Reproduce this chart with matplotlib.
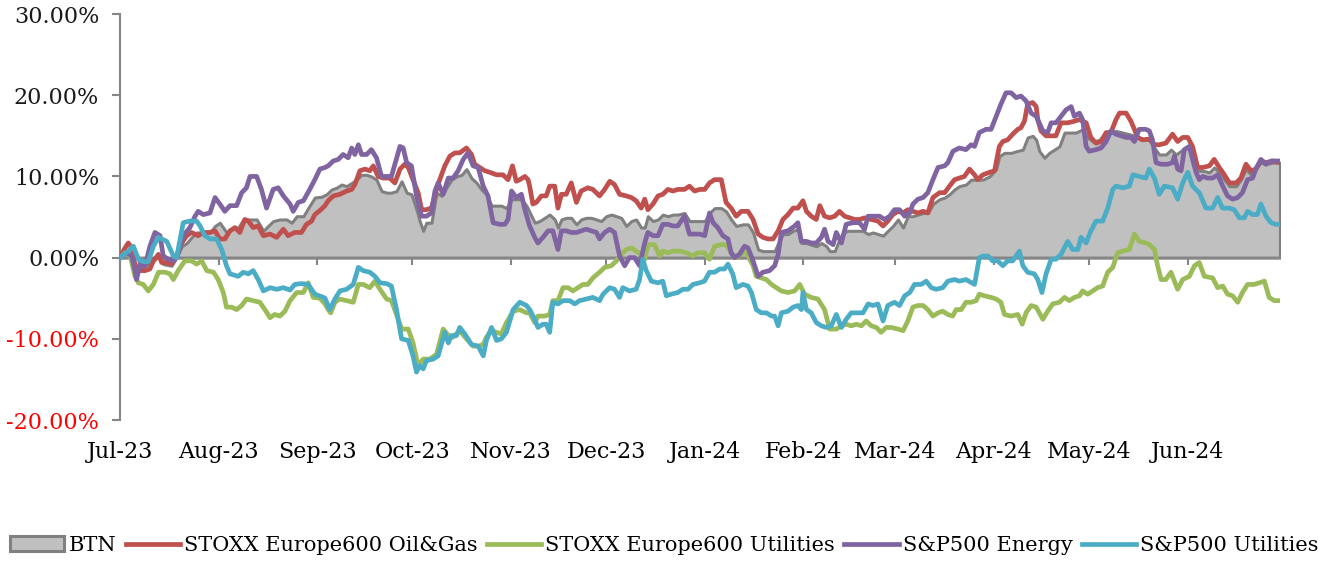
import numpy as np
import matplotlib
matplotlib.use("Agg")
import matplotlib.pyplot as plt
import matplotlib.dates as mdates
from datetime import datetime

# ---------------- data (day offsets from 2023-07-01, values in %) ----------------
start_date = datetime(2023, 7, 1)

btn_days = [0, 1.6, 3.1, 4.7, 7.3, 10.5, 12.1, 13.6, 16.2, 17.8, 19.4, 21, 22.5, 24.1, 26.2, 28.3, 29.9, 31.4, 33.5, 35.1,
            37.2, 38.8, 40.9, 43, 45.1, 46.6, 48.2, 50.3, 52.4, 54, 55.6, 57.7, 59.2, 61.3, 63.4, 65, 66.6, 68.1, 69.7, 71.3,
            72.9, 74.4, 76, 77.6, 79.1, 80.7, 82.3, 83.9, 85.4, 87, 88.6, 90.2, 91.7, 93.3, 94.3, 95.4, 96.4, 98, 99.6, 101.2,
            102.7, 104.3, 105.9, 107.5, 109, 110.6, 112.2, 113.7, 115.3, 116.9, 118.5, 120, 121.6, 123.2, 124.7, 126.3, 127.9, 129.5, 130.5, 132,
            133.6, 135.2, 136.8, 137.8, 138.9, 140.4, 142, 143.6, 145.1, 146.7, 148.3, 149.9, 151.4, 153, 154.6, 156.2, 157.7, 159.3, 160.9, 162.4,
            164, 165.1, 166.1, 167.7, 169.3, 170.8, 172.4, 174, 175.5, 177.6, 179.2, 180.8, 182.4, 184, 185.5, 187.1, 189.2, 190.7, 192.3, 193.9,
            196, 197.6, 199.2, 200.8, 202.3, 204.4, 206, 207.1, 208.6, 210.2, 211.8, 213.3, 214.4, 216, 217.5, 219.1, 220.7, 222.3, 223.3, 224.9,
            225.9, 227.5, 229.1, 230.6, 232.2, 233.8, 235.4, 236.9, 238.5, 240.1, 241.6, 243.2, 244.8, 246.4, 247.9, 249.5, 251.1, 252.7, 254.2, 255.8,
            257.9, 259.5, 261, 262.6, 264.1, 266.2, 267.8, 269.4, 271.5, 273.6, 275.7, 276.7, 278.3, 280.4, 282, 284.1, 285.6, 287.2, 288.3, 289.3,
            290.9, 292.4, 294, 295.6, 297.2, 298.7, 300.8, 302.9, 304.5, 306.1, 308.2, 309.7, 311.8, 313.4, 315.5, 317.6, 319.2, 320.7, 322.8, 323.9,
            325.5, 327, 329.1, 330.7, 332.3, 334.4, 336, 337.5, 339.1, 340.7, 342.8, 344.3, 345.9, 347.5, 349.1, 351.2, 352.7, 354.3, 355.9, 357.4,
            359, 360.6, 362.7, 365]
btn_vals = [0, 1.0, 0.6, -1.0, -1.2, -0.4, 0.2, -0.8, -1.0, 0, 1.4, 1.8, 2.5, 3.1, 3.1, 3.1, 3.9, 4.3, 3.1, 3.5,
            3.7, 4.7, 4.7, 4.7, 3.3, 3.9, 4.5, 4.7, 4.7, 4.3, 5.1, 5.1, 6.1, 7.4, 7.5, 7.8, 8.4, 8.6, 9.0, 8.8,
            9.2, 9.6, 10.2, 10.2, 10.0, 9.6, 8.2, 8.0, 8.0, 8.2, 9.4, 8.0, 7.8, 5.9, 4.5, 3.3, 4.3, 4.3, 8.0, 7.6,
            8.6, 9.6, 10.0, 10.2, 10.9, 9.8, 9.2, 8.4, 7.8, 6.4, 6.4, 6.4, 6.1, 7.2, 7.2, 7.2, 6.4, 5.1, 4.3, 4.5,
            4.9, 5.3, 4.7, 3.7, 4.7, 4.9, 4.9, 4.1, 4.7, 4.9, 4.9, 4.7, 4.5, 5.1, 5.3, 5.1, 4.9, 3.9, 4.5, 4.7,
            3.7, 3.7, 5.1, 4.5, 4.7, 5.3, 5.1, 5.3, 5.3, 5.5, 4.5, 4.5, 4.5, 4.5, 5.5, 6.1, 6.1, 5.7, 4.7, 3.9,
            4.1, 4.1, 3.1, 1.0, 0.8, 0.8, 0.8, 1.8, 2.9, 2.9, 3.3, 3.5, 1.8, 1.8, 1.6, 1.4, 1.8, 1.4, 0.8, 0.8,
            1.8, 3.1, 3.3, 3.3, 3.3, 3.3, 2.9, 3.1, 2.9, 2.7, 3.3, 3.9, 4.7, 3.7, 5.1, 5.1, 5.3, 5.5, 5.5, 6.6,
            7.2, 7.4, 7.8, 8.4, 8.8, 9.0, 9.6, 9.6, 9.6, 10.0, 10.9, 12.5, 12.9, 12.9, 13.1, 13.3, 14.8, 15.0, 14.5, 13.1,
            12.3, 12.9, 13.3, 13.7, 15.4, 15.4, 15.4, 15.8, 14.8, 14.3, 14.5, 15.2, 15.4, 15.6, 15.4, 15.2, 15.0, 14.8, 14.5, 14.5,
            13.5, 12.7, 12.7, 13.3, 12.7, 13.3, 13.7, 12.5, 10.7, 10.7, 10.5, 11.1, 10.5, 9.6, 8.8, 8.8, 9.6, 10.9, 10.2, 11.1,
            11.7, 11.5, 11.7, 11.7]

oilgas_days = [0, 1.6, 2.6, 3.7, 4.7, 6.3, 7.9, 9.4, 10.5, 12.1, 13.1, 14.7, 16.2, 17.8, 19.4, 21, 22.5, 24.6, 26.2, 28.3,
               29.9, 31.4, 33, 34.6, 36.2, 37.7, 39.3, 40.4, 41.9, 43.5, 45.1, 47.2, 49.3, 51.4, 52.9, 55, 57.1, 58.7, 60.3, 61.3,
               62.9, 64.5, 65.5, 67.1, 69.2, 71.3, 72.9, 73.9, 75.5, 77.1, 78.6, 79.7, 81.2, 82.8, 84.9, 86.5, 88.1, 89.6, 90.7, 92.2,
               93.8, 94.9, 96.4, 98, 99.6, 100.6, 102.2, 103.8, 105.4, 106.9, 109, 110.6, 111.6, 113.2, 114.8, 116.4, 118.5, 120.5, 122.1, 123.5,
               124.7, 125.8, 127.4, 128.4, 128.9, 129.9, 131, 132.6, 134.1, 135.2, 136.8, 137.8, 138.9, 140.4, 142, 143.6, 145.1, 147.2, 148.8, 150.9,
               152.5, 154.1, 155.6, 157.2, 159.3, 160.9, 162.4, 164, 165.1, 166.1, 167.7, 169.3, 170.8, 172.4, 174, 175.5, 177.6, 179.2, 180.8, 182.4,
               184, 185.5, 187.1, 189.2, 190.7, 192.3, 193.9, 195.5, 197.6, 199.2, 200.8, 202.3, 203.9, 205.5, 207.1, 208.6, 210.2, 211.8, 213.3, 214.9,
               216, 217.5, 219.1, 220.2, 221.7, 223.3, 224.9, 226.4, 228, 229.6, 231.2, 232.7, 234.3, 236.4, 238.5, 240.1, 241.6, 243.2, 244.8, 246.4,
               247.9, 249.5, 251.1, 252.7, 254.2, 255.8, 257.9, 259.5, 261, 262.6, 264.1, 265.7, 267.3, 268.9, 269.9, 271.5, 273.6, 275.2, 276.7, 277.8,
               279.3, 280.9, 282.5, 283.5, 284.6, 285.6, 287.2, 288.3, 288.8, 289.8, 291.4, 293, 294.5, 296.1, 298.2, 300.3, 301.9, 304, 305.5, 307.1,
               308.7, 310.3, 311.8, 313.4, 314.5, 316.6, 318.1, 319.2, 320.2, 321.8, 323.9, 325.5, 327, 329.1, 331.2, 332.8, 334.4, 336, 337.5, 339.1,
               340.7, 342.8, 344.3, 345.9, 347.5, 349.1, 351.2, 352.7, 354.3, 355.9, 357.4, 359, 360.6, 362.7, 365]
oilgas_vals = [0, 1.2, 1.8, 1.2, -1.0, -1.6, -1.6, -1.4, -0.4, 0.4, -0.6, -0.6, -0.8, 0.2, 1.8, 2.7, 3.1, 2.7, 3.1, 3.1,
               3.3, 2.3, 2.3, 3.3, 3.7, 3.1, 4.7, 4.5, 3.7, 3.9, 2.7, 2.9, 2.5, 3.5, 2.7, 3.1, 3.1, 4.1, 4.5, 5.3,
               5.8, 6.4, 7.0, 7.6, 7.8, 8.2, 8.4, 9.0, 10.7, 10.9, 10.7, 11.3, 10.0, 9.8, 9.8, 9.2, 10.9, 11.5, 11.1, 9.6,
               8.0, 5.9, 5.9, 6.1, 8.4, 9.6, 11.3, 12.5, 12.9, 12.9, 13.5, 12.7, 11.5, 11.1, 10.7, 10.5, 10.2, 10.2, 9.6, 11.3,
               9.4, 9.6, 10.0, 9.6, 8.8, 6.6, 6.8, 7.6, 7.6, 8.8, 8.8, 6.1, 7.8, 7.8, 9.2, 6.8, 8.2, 8.6, 8.4, 7.6,
               8.4, 9.4, 9.0, 7.8, 7.6, 7.4, 7.0, 6.1, 7.2, 5.9, 6.6, 7.6, 7.8, 8.4, 8.2, 8.4, 8.4, 8.8, 8.2, 8.4,
               8.4, 9.2, 9.6, 9.6, 6.8, 6.1, 5.1, 5.7, 5.7, 4.7, 2.9, 2.5, 2.3, 2.3, 3.3, 4.7, 5.3, 6.1, 6.1, 7.0,
               5.7, 5.1, 4.7, 6.4, 5.1, 4.9, 5.1, 5.7, 5.1, 4.9, 4.7, 4.7, 4.9, 4.7, 4.5, 3.9, 4.5, 5.3, 5.7, 5.5,
               5.9, 5.7, 5.5, 5.7, 5.5, 7.4, 8.0, 8.0, 8.8, 9.6, 9.8, 10.0, 10.9, 10.2, 9.6, 10.2, 10.5, 10.7, 13.7, 14.3,
               14.5, 15.2, 15.8, 16.0, 16.8, 18.9, 19.1, 18.6, 17.0, 15.6, 15.0, 15.0, 15.0, 16.6, 16.6, 16.8, 17.0, 16.6, 14.8, 14.1,
               14.3, 15.4, 15.4, 17.0, 17.8, 17.8, 16.8, 15.8, 14.8, 14.5, 14.6, 13.9, 13.9, 14.1, 15.2, 14.3, 14.8, 14.8, 13.7, 11.1,
               11.1, 11.3, 12.1, 11.1, 10.2, 9.2, 9.2, 9.8, 11.5, 10.7, 10.9, 11.9, 11.7, 11.9, 11.7]

eu_util_days = [0, 1.6, 3.1, 4.7, 5.8, 7.3, 8.9, 10.5, 12.1, 14.2, 15.7, 16.8, 18.3, 20.4, 22.5, 24.1, 25.7, 27.3, 29.4, 30.9,
                32.5, 33.5, 35.1, 36.7, 38.3, 39.8, 41.9, 44, 45.6, 47.2, 48.7, 50.3, 51.9, 53.5, 55.6, 57.7, 59.2, 60.8, 62.9, 64.5,
                65.5, 66.3, 67.6, 69.2, 71.3, 73.4, 75, 76.5, 78.6, 80.2, 81.8, 83.9, 85.4, 87, 88.6, 90.7, 92.2, 93.8, 95.4, 97.5,
                99.6, 101.7, 103.3, 104.8, 106.9, 109, 111.1, 112.7, 114.3, 115.3, 116.9, 118.5, 120, 121.6, 123.7, 125.8, 127.9, 128.9, 130.5, 131.5,
                133.6, 135.2, 136.2, 137.8, 139.4, 141, 142.5, 144.1, 145.7, 147.2, 148.8, 150.9, 152.5, 154.6, 156.2, 157.7, 159.3, 160.9, 162.4, 164,
                165.1, 166.1, 168.2, 169.8, 170.8, 172.4, 174, 176.1, 178.2, 180.3, 181.8, 183.9, 185.5, 187.1, 189.2, 190.7, 192.3, 193.9, 196, 197.1,
                199.2, 200.2, 201.8, 203.4, 205, 206.5, 208.1, 210.2, 212.3, 213.9, 215.4, 217.5, 219.6, 221.7, 223.3, 225.4, 227, 228.5, 230.1, 231.7,
                233.3, 234.8, 236.4, 238, 239.5, 241.1, 242.7, 244.8, 246.4, 247.9, 249.5, 251.1, 252.7, 254.2, 255.8, 257.4, 258.9, 260.5, 262, 263.1,
                264.7, 266.2, 267.8, 269.4, 270.4, 272, 274.1, 275.7, 277.2, 278.3, 280.4, 282.5, 283.9, 285.1, 286.7, 288.3, 290.4, 291.9, 293.5, 295.6,
                297.2, 298.7, 300.3, 301.9, 302.9, 304.5, 306.1, 307.6, 309.2, 310.8, 312.4, 313.9, 315.5, 317.6, 319.2, 320.7, 322.8, 323.9, 325.5, 326.5,
                327.6, 329.1, 330.7, 332.8, 334.4, 336.5, 338.1, 339.6, 341.2, 343.8, 345.4, 347, 348.5, 350.1, 351.7, 353.2, 354.8, 356.9, 358.5, 360.1,
                361.6, 363.2, 365]
eu_util_vals = [0, 0.6, 0.4, -2.3, -3.1, -3.3, -4.1, -3.3, -1.8, -1.8, -2.0, -2.7, -1.6, -0.4, -0.4, -0.8, -0.4, -1.6, -1.8, -2.7,
                -4.3, -6.1, -6.1, -6.4, -5.9, -5.1, -5.3, -5.5, -6.4, -7.4, -7.0, -7.2, -6.6, -5.3, -4.3, -4.3, -3.1, -4.9, -5.0, -5.7,
                -6.4, -6.8, -5.5, -5.1, -5.3, -5.5, -3.3, -3.3, -3.7, -2.9, -3.9, -5.1, -5.3, -7.0, -8.8, -8.8, -10.5, -13.3, -12.5, -12.5,
                -11.9, -8.8, -9.6, -9.8, -9.0, -10.0, -10.9, -10.9, -10.7, -9.8, -9.0, -9.2, -9.4, -8.0, -6.6, -6.4, -6.8, -6.8, -8.0, -7.2,
                -7.2, -7.0, -5.3, -5.3, -3.7, -3.7, -4.1, -3.7, -3.3, -3.3, -2.5, -1.8, -1.2, -1.0, -0.4, 0.4, 1.0, 1.2, 0.8, 0.4,
                -0.2, 1.6, 1.6, 0.2, 0.8, 0.6, 0.8, 0.8, 0.6, 0.2, 0.6, 0.6, -0.2, 1.4, 1.6, 1.6, 0.6, 0, 0.6, 0.6,
                -1.0, -2.3, -2.5, -2.7, -3.3, -3.7, -4.1, -4.3, -4.1, -3.3, -4.5, -4.9, -5.1, -6.4, -8.8, -8.8, -8.4, -8.2, -8.4, -8.2,
                -8.4, -7.8, -8.4, -8.6, -9.2, -8.6, -8.6, -8.8, -9.0, -7.8, -6.1, -5.9, -5.9, -6.4, -7.2, -6.8, -6.6, -7.0, -7.2, -6.4,
                -6.4, -5.5, -5.5, -5.3, -4.5, -4.7, -4.9, -5.1, -5.5, -7.0, -7.2, -7.0, -8.2, -6.8, -5.9, -6.1, -7.6, -6.6, -5.7, -5.5,
                -4.9, -5.3, -4.9, -4.7, -4.1, -4.5, -4.1, -3.7, -3.5, -1.8, -1.2, 0.6, 0.8, 1.0, 2.9, 2.0, 1.8, 1.6, 1.0, -1.0,
                -2.7, -2.7, -1.8, -3.9, -2.7, -2.3, -1.0, -0.6, -2.3, -2.5, -3.7, -3.5, -4.5, -4.7, -5.5, -4.3, -3.3, -3.3, -3.1, -2.9,
                -4.9, -5.3, -5.3]

sp_energy_days = [0, 2.1, 3.7, 4.7, 5.2, 6.3, 7.9, 9.4, 11, 12.6, 13.6, 15.2, 16.8, 18.3, 19.9, 22, 23.6, 24.6, 26.2, 28.3,
                  29.9, 31.4, 33, 34.6, 36.7, 38.3, 39.8, 40.9, 43, 44.5, 46.1, 48.2, 49.8, 51.4, 53.5, 54.5, 56.1, 57.7, 59.7, 61.3,
                  62.9, 64.5, 65.5, 67.1, 68.7, 70.2, 71.8, 72.9, 73.9, 75, 76, 77.6, 79.1, 80.7, 82.3, 83.9, 85.4, 86.5, 88.1, 89.1,
                  90.2, 91.7, 93.3, 94.9, 96.4, 98, 99.1, 100.1, 101.7, 103.3, 104.8, 106.4, 108, 109.5, 111.1, 112.7, 114.3, 115.8, 117.4, 119.5,
                  121.1, 122.1, 123.2, 124.7, 126.3, 127.4, 128.9, 130.5, 131.5, 133.1, 134.7, 136.2, 137.8, 138.9, 140.4, 142, 143.6, 145.1, 146.7, 148.3,
                  149.9, 150.9, 152.5, 154.1, 155.6, 157.2, 158.8, 160.3, 161.9, 163.5, 165.1, 166.1, 167.7, 169.3, 170.8, 172.4, 174, 175.5, 177.6, 179.2,
                  180.8, 182.4, 184, 185.5, 186.6, 188.1, 189.7, 191.3, 192.3, 193.4, 194.9, 196.5, 197.6, 199.2, 200.8, 202.3, 204.4, 206, 207.1, 208.1,
                  210.2, 212.3, 213.3, 214.4, 216, 217.5, 219.1, 220.7, 221.7, 222.8, 224.4, 225.4, 227, 228.5, 230.6, 232.7, 234.3, 235.4, 236.9, 239,
                  240.6, 242.2, 243.7, 245.3, 246.9, 248.5, 249.5, 251.1, 252.7, 254.2, 255.8, 257.4, 259.5, 260.5, 262.1, 263.1, 264.1, 266.2, 267.8, 268.9,
                  270.4, 272.5, 274.1, 275.7, 277.2, 278.8, 280.4, 282, 283.5, 285.1, 286.7, 288.3, 290.4, 291.9, 293, 294.5, 296.1, 297.7, 299.3, 300.3,
                  301.9, 302.9, 304, 305, 307.1, 308.7, 310.3, 311.8, 313.4, 315, 316.6, 318.1, 319.2, 320.7, 322.8, 323.9, 324.9, 326, 327.6, 329.7,
                  331.2, 331.8, 332.8, 333.9, 334.9, 336.5, 337.5, 338.6, 339.6, 340.7, 342.2, 343.8, 345.4, 347, 348.5, 350.1, 351.7, 353.2, 354.8, 356.4,
                  357.4, 359, 360.6, 362.2, 363.7, 365]
sp_energy_vals = [0, 0.6, 0.2, -1.6, -2.7, -0.8, -1.0, 1.4, 3.1, 2.7, 0.2, -0.2, -0.4, 0.6, 2.7, 3.7, 5.1, 5.7, 5.3, 5.5,
                  7.4, 6.6, 5.7, 6.4, 6.4, 8.0, 8.6, 10.0, 10.0, 8.4, 6.1, 8.4, 8.6, 7.6, 6.6, 5.7, 6.8, 7.0, 8.4, 9.6,
                  10.9, 11.1, 11.3, 11.9, 12.1, 12.7, 12.3, 13.5, 12.7, 13.9, 12.7, 12.7, 13.3, 12.3, 10.0, 10.0, 10.0, 11.5, 13.7, 13.5,
                  11.7, 11.3, 7.6, 5.1, 5.1, 5.5, 8.2, 9.2, 7.8, 9.8, 9.8, 10.7, 12.1, 12.9, 11.3, 11.1, 8.8, 7.6, 4.3, 4.1,
                  4.1, 4.7, 8.2, 7.4, 7.8, 5.9, 3.9, 2.5, 1.8, 2.5, 3.3, 3.3, 1.0, 3.3, 3.3, 3.1, 3.1, 3.3, 3.5, 3.3,
                  3.1, 2.3, 3.1, 3.5, 3.1, 0.2, -1.0, 0, 0, -1.0, 1.8, 3.1, 2.7, 2.7, 4.1, 4.1, 3.9, 3.9, 5.1, 2.9,
                  2.9, 2.9, 2.7, 5.5, 4.3, 3.7, 2.7, 2.3, 0.6, 0, 0.4, 1.4, 1.2, -0.4, -2.3, -1.8, -1.6, -1.0, 0.4, 3.1,
                  3.3, 3.9, 4.3, 2.0, 2.0, 1.8, 1.8, 2.5, 3.5, 2.0, 1.6, 3.1, 1.8, 4.1, 4.3, 4.3, 3.5, 5.1, 5.1, 5.1,
                  4.7, 5.1, 5.9, 5.9, 5.1, 5.5, 6.6, 7.2, 7.4, 8.0, 9.6, 11.1, 11.3, 11.7, 13.1, 13.3, 13.5, 13.3, 13.9, 13.7,
                  15.4, 15.8, 15.8, 17.4, 18.9, 20.3, 20.3, 19.7, 19.9, 19.3, 17.8, 17.4, 15.6, 15.4, 16.6, 16.6, 17.4, 18.2, 18.6, 17.4,
                  17.8, 17.0, 13.7, 13.1, 13.3, 13.5, 14.3, 15.6, 15.2, 15.0, 14.8, 14.8, 14.3, 15.8, 15.8, 15.6, 14.5, 11.7, 11.5, 11.5,
                  11.7, 12.5, 10.9, 10.7, 13.3, 13.7, 12.1, 10.5, 9.6, 10.0, 9.8, 9.8, 10.2, 8.8, 7.6, 7.2, 7.4, 8.0, 9.6, 9.8,
                  10.9, 12.1, 11.5, 11.9, 11.9, 11.9]

sp_util_days = [0, 2.6, 4.2, 5.8, 7.3, 8.9, 10.5, 12.1, 14.7, 16.8, 17.8, 19.9, 22, 24.1, 25.2, 26.7, 28.3, 30.4, 32, 33.5,
                34.6, 37.2, 38.8, 40.4, 41.9, 43.5, 45.1, 47.2, 49.3, 51.4, 53.5, 55, 57.1, 59.2, 61.3, 63.4, 64.5, 66, 67.6, 69.2,
                71.3, 73.4, 75, 76.5, 78.6, 80.2, 81.8, 83.9, 85.4, 87, 88.6, 90.7, 92.2, 93.3, 94.3, 95.4, 96.4, 98.5, 100.1, 102.2,
                103.3, 104.3, 105.9, 106.9, 108.5, 110.6, 112.7, 114.3, 115.3, 116.9, 118.5, 120, 121.6, 123.7, 125.8, 127.9, 128.9, 130.5, 131.5, 133.1,
                134.1, 135.2, 136.2, 137.8, 139.4, 141.5, 143.1, 144.6, 146.7, 148.8, 150.9, 152, 154.1, 155.6, 157.2, 158.2, 160.3, 162.4, 163.5, 164.5,
                165.6, 167.2, 169.3, 170.8, 171.9, 173.4, 175.5, 177.1, 178.7, 180.3, 182.4, 183.9, 185.5, 187.1, 188.7, 190.2, 191.3, 192.8, 193.9, 196,
                197.6, 198.7, 200.2, 201.8, 203.4, 205, 206, 207.1, 208.1, 210.2, 211.8, 213.3, 214.4, 214.9, 216, 217.5, 219.1, 220.7, 222.3, 223.8,
                225.4, 227, 228.5, 230.1, 231.7, 233.8, 235.4, 236.9, 238.5, 240.1, 241.6, 243.7, 245.3, 246.9, 248.5, 250, 252.1, 253.7, 255.3, 256.8,
                258.9, 260.5, 262.6, 264.1, 266.2, 268.9, 270.4, 271.5, 273.1, 274.6, 276.2, 277.8, 279.3, 280.9, 283, 284.1, 285.6, 287.7, 288.8, 290.1,
                291.4, 293, 294.5, 296.1, 298.2, 299.8, 301.4, 302.4, 304, 305.5, 307.1, 309.2, 310.8, 312.4, 313.4, 315.5, 317.6, 318.7, 320.7, 322.8,
                323.9, 325.5, 327, 328.6, 331.2, 332.8, 334.4, 336, 337.5, 339.6, 341.7, 343.8, 345.4, 346.9, 349.1, 350.6, 352.2, 353.8, 354.8, 356.4,
                357.9, 359, 360.6, 362.2, 363.7, 365]
sp_util_vals = [0, 0.8, 1.4, -0.2, -0.5, -0.5, 1.4, 2.5, 2.0, 0.2, 0, 4.3, 4.5, 4.5, 3.9, 2.7, 2.3, 2.3, 1.0, -1.0,
                -2.0, -2.3, -1.8, -2.0, -1.6, -2.7, -4.1, -3.7, -3.9, -3.7, -4.0, -3.3, -3.2, -3.3, -4.5, -4.8, -5.0, -6.4, -5.1, -4.1,
                -3.9, -3.3, -1.2, -1.6, -1.8, -2.3, -3.1, -3.2, -3.5, -6.4, -10.0, -10.2, -12.1, -14.1, -13.3, -13.7, -12.7, -12.5, -12.1, -9.2,
                -10.5, -9.6, -9.6, -8.6, -9.4, -10.7, -10.9, -12.1, -10.2, -8.6, -10.2, -10.0, -9.2, -6.4, -5.5, -5.9, -6.4, -7.6, -8.6, -8.2,
                -8.2, -9.2, -5.5, -5.7, -5.3, -5.3, -5.7, -5.3, -5.1, -4.9, -5.3, -4.5, -3.7, -3.9, -4.9, -3.7, -4.1, -3.9, -2.7, -0.2,
                -1.6, -2.9, -3.1, -2.9, -4.7, -4.5, -4.3, -3.9, -3.9, -3.3, -3.1, -2.9, -1.8, -1.8, -1.4, -1.4, -0.8, -2.0, -3.7, -3.3,
                -3.5, -4.3, -6.4, -6.8, -6.8, -7.2, -7.2, -8.4, -6.8, -6.6, -6.1, -5.9, -6.4, -4.3, -6.4, -6.8, -8.0, -8.4, -8.6, -8.4,
                -7.0, -8.6, -7.6, -6.8, -6.8, -6.8, -5.7, -5.9, -5.7, -7.8, -5.9, -5.5, -5.9, -4.7, -4.3, -3.3, -3.3, -2.9, -3.7, -3.9,
                -3.7, -2.9, -2.7, -2.9, -2.7, -3.3, 0, 0.2, 0.2, -0.4, -0.4, -1.0, -0.4, -0.4, 0.8, -1.0, -1.8, -2.0, -2.7, -4.3,
                -2.0, -0.2, -0.2, 0.4, 2.0, 1.0, 1.0, 2.5, 1.8, 3.3, 4.5, 4.5, 6.1, 8.4, 8.8, 8.6, 8.8, 10.2, 10.0, 9.8,
                10.9, 9.8, 7.8, 8.8, 8.6, 7.2, 9.2, 10.5, 8.8, 8.0, 6.1, 6.1, 7.4, 6.1, 6.1, 5.9, 4.9, 4.9, 5.7, 5.3,
                5.3, 6.6, 5.1, 4.3, 4.1, 4.1]

series_names = ["BTN", "STOXX Europe600 Oil&Gas", "STOXX Europe600 Utilities", "S&P500 Energy", "S&P500 Utilities"]
y_ticks = [-20, -10, 0, 10, 20, 30]

# ---------------- style ----------------
SERIF = ["DejaVu Serif"]
C_FILL, C_EDGE = "#C0C0C0", "#808080"
C_RED, C_GREEN, C_PURPLE, C_CYAN = "#C0504D", "#9BBB59", "#8064A2", "#4BACC6"
AXIS_GRAY = "#868686"


def to_x(days):
    return mdates.date2num(start_date) + np.asarray(days, dtype=float)


fig = plt.figure(figsize=(13.29, 5.61), dpi=100)
ax = fig.add_axes([0.0903, 0.2513, 0.8728, 0.7237])

btn_x = to_x(btn_days)
area = ax.fill_between(btn_x, 0, btn_vals, facecolor=C_FILL, edgecolor=C_EDGE,
                       linewidth=2.2, zorder=1, label=series_names[0])
lw = 3.4
l1, = ax.plot(to_x(oilgas_days), oilgas_vals, color=C_RED, lw=lw, zorder=3, solid_joinstyle="round")
l2, = ax.plot(to_x(eu_util_days), eu_util_vals, color=C_GREEN, lw=lw, zorder=4, solid_joinstyle="round")
l3, = ax.plot(to_x(sp_energy_days), sp_energy_vals, color=C_PURPLE, lw=lw, zorder=5, solid_joinstyle="round")
l4, = ax.plot(to_x(sp_util_days), sp_util_vals, color=C_CYAN, lw=lw, zorder=6, solid_joinstyle="round")

ax.set_xlim(to_x([0])[0], to_x([365])[0])
ax.set_ylim(-20, 30)

# y axis
ax.set_yticks(y_ticks)
ax.set_yticklabels([f"{v:.2f}%" for v in y_ticks], family=SERIF, fontsize=16)
for t, v in zip(ax.get_yticklabels(), y_ticks):
    t.set_color("#FF0000" if v < 0 else "#1a1a1a")
ax.tick_params(axis="y", direction="out", length=6, width=1.5, color=AXIS_GRAY, pad=9)

# x axis line at zero with month ticks, labels at the bottom
for s in ["top", "right"]:
    ax.spines[s].set_visible(False)
ax.spines["left"].set_color(AXIS_GRAY)
ax.spines["left"].set_linewidth(1.5)
ax.spines["bottom"].set_position(("data", 0))
ax.spines["bottom"].set_color(AXIS_GRAY)
ax.spines["bottom"].set_linewidth(1.5)
ax.spines["bottom"].set_zorder(2)
ax.xaxis.set_major_locator(mdates.MonthLocator())
ax.tick_params(axis="x", direction="out", length=5, width=1.5, color=AXIS_GRAY, labelbottom=False)

sec = ax.secondary_xaxis("bottom")
sec.xaxis.set_major_locator(mdates.MonthLocator())
sec.xaxis.set_major_formatter(mdates.DateFormatter("%b-%y"))
sec.tick_params(length=0, pad=15, labelsize=16)
for t in sec.get_xticklabels():
    t.set_family(SERIF)
sec.spines["bottom"].set_visible(False)

ax.patch.set_visible(False)

leg = fig.legend([area, l1, l2, l3, l4], series_names, loc="center",
                 bbox_to_anchor=(0.5, 0.028), ncol=5, frameon=False,
                 prop={"family": SERIF, "size": 15}, handlelength=2.6,
                 handletextpad=0.2, columnspacing=0.45, borderaxespad=0)
for h in leg.legend_handles[1:]:
    h.set_linewidth(3.4)

fig.savefig("out.png", dpi=100)
